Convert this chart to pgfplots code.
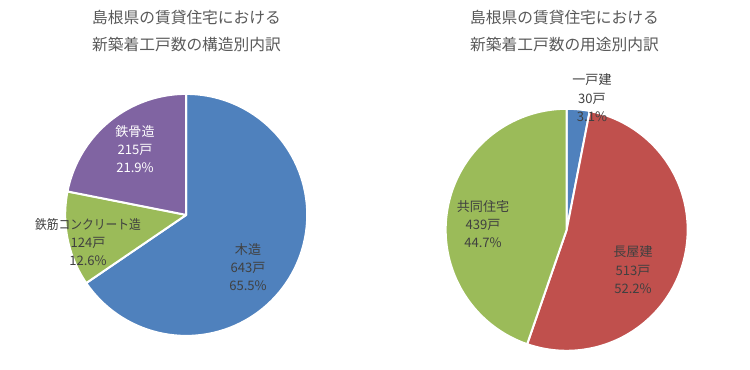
\documentclass[border=0pt]{standalone}
\usepackage{fontspec}
\setmainfont{Noto Sans CJK JP}
\usepackage{pgfplots}
\usepackage{pgfplotstable}
\pgfplotsset{compat=1.18}
\definecolor{cBlue}{HTML}{4F81BD}
\definecolor{cRed}{HTML}{C0504D}
\definecolor{cGreen}{HTML}{9BBB59}
\definecolor{cPurple}{HTML}{8064A2}
\definecolor{cTitle}{HTML}{595959}
\definecolor{cLbl}{HTML}{404040}

% structure: 木造, 鉄筋コンクリート造, 鉄骨造
\pgfplotstableread{
idx value
0 643
1 124
2 215
}\structtab
% use: 一戸建, 長屋建, 共同住宅
\pgfplotstableread{
idx value
0 30
1 513
2 439
}\usetab

\newcommand{\getvals}[1]{%
  \pgfplotstablegetelem{0}{value}\of#1\pgfmathsetmacro{\va}{\pgfplotsretval}%
  \pgfplotstablegetelem{1}{value}\of#1\pgfmathsetmacro{\vb}{\pgfplotsretval}%
  \pgfplotstablegetelem{2}{value}\of#1\pgfmathsetmacro{\vc}{\pgfplotsretval}%
  \pgfmathsetmacro{\tot}{\va+\vb+\vc}%
  \pgfmathsetmacro{\angA}{360*(\va/\tot)}%
  \pgfmathsetmacro{\angB}{360*((\va+\vb)/\tot)}%
}

\pgfplotsset{pieaxis/.style={anchor=origin, x=0.75pt, y=0.75pt,
  xmin=-125, xmax=125, ymin=-125, ymax=125, hide axis, clip=false},
  wedge/.style={draw=white, line width=1.5pt, line join=round, samples=90, variable=\t, no markers}}

\begin{document}
\begin{tikzpicture}
\useasboundingbox (0,0) rectangle (562.5pt,-277.5pt);

\getvals{\structtab}
\begin{axis}[pieaxis, at={(139.65pt,-161.18pt)}]
\addplot[wedge, fill=cBlue, domain=0:\angA] ({121*sin(\t)},{121*cos(\t)}) -- (axis cs:0,0) -- cycle;
\addplot[wedge, fill=cGreen, domain=\angA:\angB] ({121*sin(\t)},{121*cos(\t)}) -- (axis cs:0,0) -- cycle;
\addplot[wedge, fill=cPurple, domain=\angB:360] ({121*sin(\t)},{121*cos(\t)}) -- (axis cs:0,0) -- cycle;
\end{axis}

\getvals{\usetab}
\begin{axis}[pieaxis, at={(425.0pt,-172.35pt)}]
\addplot[wedge, fill=cBlue, domain=0:\angA] ({121*sin(\t)},{121*cos(\t)}) -- (axis cs:0,0) -- cycle;
\addplot[wedge, fill=cRed, domain=\angA:\angB] ({121*sin(\t)},{121*cos(\t)}) -- (axis cs:0,0) -- cycle;
\addplot[wedge, fill=cGreen, domain=\angB:360] ({121*sin(\t)},{121*cos(\t)}) -- (axis cs:0,0) -- cycle;
\end{axis}

\begin{scope}[x=0.75pt, y=-0.75pt]
\tikzset{ttl/.style={text=cTitle, font=\fontsize{11.8pt}{13pt}\selectfont, inner sep=0pt},
         lbl/.style={text=cLbl, font=\fontsize{9.8pt}{11pt}\selectfont, inner sep=0pt}}
% titles
\node[ttl] at (186.5,17.5) {島根県の賃貸住宅における};
\node[ttl] at (186.5,44.5) {新築着工戸数の構造別内訳};
\node[ttl] at (564.5,17.5) {島根県の賃貸住宅における};
\node[ttl] at (564.5,44.5) {新築着工戸数の用途別内訳};
% left labels
\node[lbl, text=white] at (135,132) {鉄骨造};
\node[lbl, text=white] at (135,150) {215戸};
\node[lbl, text=white] at (135,167.5) {21.9\%};
\node[lbl] at (88,225) {\scalebox{0.9}[1]{鉄筋コンクリート造}};
\node[lbl] at (88,243) {124戸};
\node[lbl] at (88,261) {12.6\%};
\node[lbl] at (248,250) {木造};
\node[lbl] at (248,268) {643戸};
\node[lbl] at (248,286) {65.5\%};
% right labels
\node[lbl] at (592,80) {一戸建};
\node[lbl] at (592,98.5) {30戸};
\node[lbl] at (592,116.5) {3.1\%};
\node[lbl] at (483,207) {共同住宅};
\node[lbl] at (483,225) {439戸};
\node[lbl] at (483,243) {44.7\%};
\node[lbl] at (633,252) {長屋建};
\node[lbl] at (633,271) {513戸};
\node[lbl] at (633,289) {52.2\%};
\end{scope}
\end{tikzpicture}
\end{document}
